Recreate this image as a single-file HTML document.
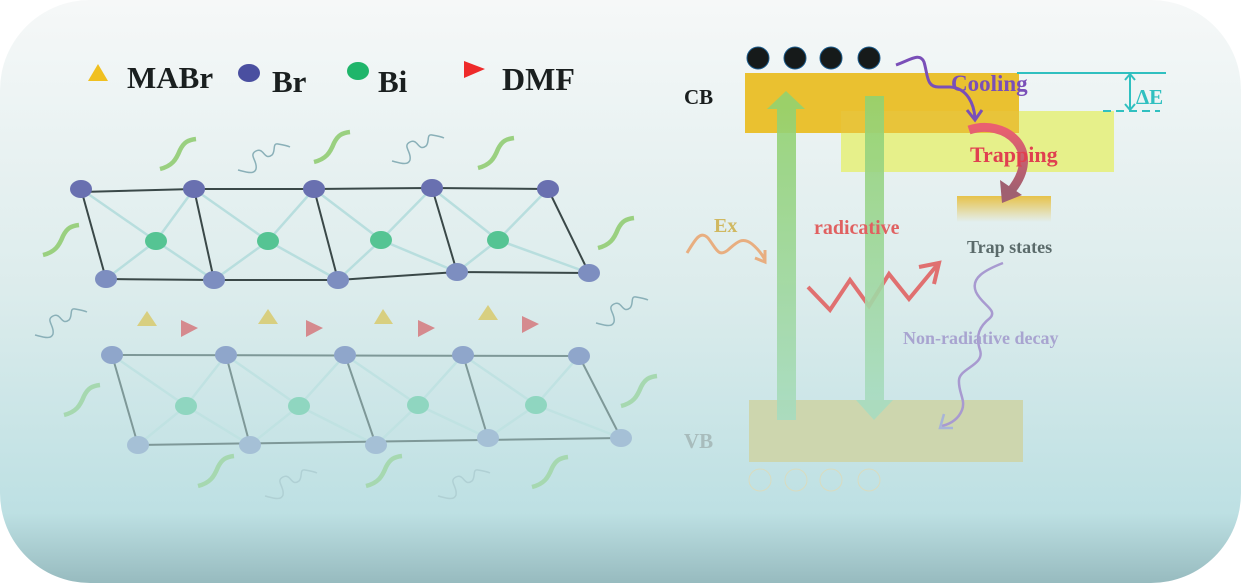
<!DOCTYPE html>
<html><head><meta charset="utf-8"><style>
html,body{margin:0;padding:0;background:#fff;}
svg{display:block;}
text{font-family:"Liberation Serif",serif;font-weight:bold;}
</style></head><body>
<svg width="1241" height="583" viewBox="0 0 1241 583" xmlns="http://www.w3.org/2000/svg">
<defs>
<linearGradient id="bg" x1="0" y1="0" x2="0" y2="1">
<stop offset="0" stop-color="#f6f8f8"/>
<stop offset="0.5" stop-color="#dcecec"/>
<stop offset="0.88" stop-color="#bde0e3"/>
<stop offset="1" stop-color="#97bbbf"/>
</linearGradient>
<linearGradient id="trap" x1="0" y1="0" x2="0" y2="1">
<stop offset="0" stop-color="#e6c24a"/>
<stop offset="1" stop-color="#e6c24a" stop-opacity="0"/>
</linearGradient>
<linearGradient id="ga" x1="0" y1="0" x2="0" y2="1">
<stop offset="0" stop-color="#93d270"/>
<stop offset="1" stop-color="#a8dcc0"/>
</linearGradient>
<linearGradient id="tr" x1="0" y1="0" x2="0" y2="1">
<stop offset="0" stop-color="#ea6070"/>
<stop offset="1" stop-color="#a06070"/>
</linearGradient>
<path id="gs" d="M0,30 C12,27 16,21 20,11 C24,3 28,1 36,0"/>
<path id="gw" d="M0,27 C8,29 16,32 18,26 C20,18 10,12 18,8 C26,4 26,18 34,12 C38,8 34,0 40,1 C46,2 50,3 52,4"/>
</defs>
<rect x="0" y="0" width="1241" height="583" rx="90" ry="90" fill="url(#bg)"/>

<!-- legend -->
<polygon points="88,81 98,64 108,81" fill="#f0c020"/>
<text x="127" y="88" font-size="31" fill="#1a1f1f">MABr</text>
<ellipse cx="249" cy="73" rx="11" ry="9" fill="#4a4fa0"/>
<text x="272" y="92" font-size="31" fill="#1a1f1f">Br</text>
<ellipse cx="358" cy="71" rx="11" ry="9" fill="#1fb56a"/>
<text x="378" y="92" font-size="31" fill="#1a1f1f">Bi</text>
<polygon points="464,61 485,69 464,78" fill="#ee2a2a"/>
<text x="502" y="90" font-size="32" fill="#1a1f1f">DMF</text>

<!-- squiggles -->
<g fill="none" stroke-linecap="butt">
<g stroke="#9ad080" stroke-width="4.5">
<use href="#gs" transform="translate(160,139)"/>
<use href="#gs" transform="translate(314,132)"/>
<use href="#gs" transform="translate(478,138)"/>
<use href="#gs" transform="translate(43,225)"/>
<use href="#gs" transform="translate(598,218)"/>
</g>
<g stroke="#a6d8b0" stroke-width="4.5">
<use href="#gs" transform="translate(64,385)"/>
<use href="#gs" transform="translate(621,376)"/>
<use href="#gs" transform="translate(198,456)"/>
<use href="#gs" transform="translate(366,456)"/>
<use href="#gs" transform="translate(532,457)"/>
</g>
<g stroke="#8ab0b8" stroke-width="1.5">
<use href="#gw" transform="translate(238,143)"/>
<use href="#gw" transform="translate(392,134)"/>
<use href="#gw" transform="translate(35,308)"/>
<use href="#gw" transform="translate(596,296)"/>
</g>
<g stroke="#b0d0d4" stroke-width="1.5">
<use href="#gw" transform="translate(265,469)"/>
<use href="#gw" transform="translate(438,469)"/>
</g>
</g>

<!-- top lattice -->
<g fill="none">
<path stroke="#b8dede" stroke-width="2.5" d="M81,189 L156,241 L214,280 M106,279 L156,241 L194,189 M194,189 L268,241 L338,280 M214,280 L268,241 L314,189 M314,189 L381,240 L457,272 M338,280 L381,240 L432,188 M432,188 L498,240 L589,273 M457,272 L498,240 L548,189"/>
<path stroke="#3a4848" stroke-width="2" d="M81,192 L194,189 L314,189 L432,188 L548,189 M106,279 L214,280 L338,280 L457,272 L589,273 M81,189 L106,279 M194,189 L214,280 M314,189 L338,280 M432,188 L457,272 M548,189 L589,273"/>
</g>
<g fill="#6970b0">
<ellipse cx="81" cy="189" rx="11" ry="9"/><ellipse cx="194" cy="189" rx="11" ry="9"/><ellipse cx="314" cy="189" rx="11" ry="9"/><ellipse cx="432" cy="188" rx="11" ry="9"/><ellipse cx="548" cy="189" rx="11" ry="9"/>
</g>
<g fill="#7d8ec0">
<ellipse cx="106" cy="279" rx="11" ry="9"/><ellipse cx="214" cy="280" rx="11" ry="9"/><ellipse cx="338" cy="280" rx="11" ry="9"/><ellipse cx="457" cy="272" rx="11" ry="9"/><ellipse cx="589" cy="273" rx="11" ry="9"/>
</g>
<g fill="#55c493">
<ellipse cx="156" cy="241" rx="11" ry="9"/><ellipse cx="268" cy="241" rx="11" ry="9"/><ellipse cx="381" cy="240" rx="11" ry="9"/><ellipse cx="498" cy="240" rx="11" ry="9"/>
</g>

<!-- molecules -->
<g fill="#d8cf80">
<polygon points="137,326 147,311 157,326"/><polygon points="258,324 268,309 278,324"/><polygon points="374,324 383,309 393,324"/><polygon points="478,320 488,305 498,320"/>
</g>
<g fill="#d58a8e">
<polygon points="181,320 198,328 181,337"/><polygon points="306,320 323,328 306,337"/><polygon points="418,320 435,328 418,337"/><polygon points="522,316 539,324 522,333"/>
</g>

<!-- bottom lattice -->
<g fill="none">
<path stroke="#c0e2e2" stroke-width="2.5" d="M112,355 L186,406 L250,445 M138,445 L186,406 L226,355 M226,355 L299,406 L376,445 M250,445 L299,406 L345,355 M345,355 L418,405 L488,438 M376,445 L418,405 L463,355 M463,355 L536,405 L621,438 M488,438 L536,405 L579,356"/>
<path stroke="#7e9898" stroke-width="2" d="M112,355 L579,356 M138,445 L621,438 M112,355 L138,445 M226,355 L250,445 M345,355 L376,445 M463,355 L488,438 M579,356 L621,438"/>
</g>
<g fill="#8fa6cb">
<ellipse cx="112" cy="355" rx="11" ry="9"/><ellipse cx="226" cy="355" rx="11" ry="9"/><ellipse cx="345" cy="355" rx="11" ry="9"/><ellipse cx="463" cy="355" rx="11" ry="9"/><ellipse cx="579" cy="356" rx="11" ry="9"/>
</g>
<g fill="#a5c0d6">
<ellipse cx="138" cy="445" rx="11" ry="9"/><ellipse cx="250" cy="445" rx="11" ry="9"/><ellipse cx="376" cy="445" rx="11" ry="9"/><ellipse cx="488" cy="438" rx="11" ry="9"/><ellipse cx="621" cy="438" rx="11" ry="9"/>
</g>
<g fill="#8fd6c0">
<ellipse cx="186" cy="406" rx="11" ry="9"/><ellipse cx="299" cy="406" rx="11" ry="9"/><ellipse cx="418" cy="405" rx="11" ry="9"/><ellipse cx="536" cy="405" rx="11" ry="9"/>
</g>

<!-- Energy diagram -->
<rect x="745" y="73" width="274" height="60" fill="#eac130"/>
<rect x="841" y="111" width="273" height="61" fill="#e6f08a"/>
<rect x="841" y="111" width="178" height="22" fill="#e8c43a"/>
<rect x="957" y="196" width="94" height="26" fill="url(#trap)"/>
<rect x="749" y="400" width="274" height="62" fill="#cdd6ae"/>

<!-- zigzag -->
<path d="M808,287 L830,310 L850,280 L869,306 L889,274 L909,299 L938,264" fill="none" stroke="#e07070" stroke-width="4"/>
<path d="M919,267 L939,263 L934,284" fill="none" stroke="#e07070" stroke-width="4"/>

<!-- green arrows -->
<g opacity="0.9">
<rect x="777" y="107" width="19" height="313" fill="url(#ga)"/>
<polygon points="767,109 786,91 805,109" fill="#93d270"/>
<rect x="865" y="96" width="19" height="304" fill="url(#ga)"/>
<polygon points="856,400 893,400 874,420" fill="#a8dcc0"/>
</g>

<!-- electrons -->
<g fill="#161a1a" stroke="#1a5a8a" stroke-width="1">
<circle cx="758" cy="58" r="11"/><circle cx="795" cy="58" r="11"/><circle cx="831" cy="58" r="11"/><circle cx="869" cy="58" r="11"/>
</g>
<g fill="none" stroke="#d8dcc0" stroke-width="1">
<circle cx="760" cy="480" r="11"/><circle cx="796" cy="480" r="11"/><circle cx="831" cy="480" r="11"/><circle cx="869" cy="480" r="11"/>
</g>

<text x="684" y="104" font-size="21" fill="#1a1f1f">CB</text>
<text x="684" y="448" font-size="21" fill="#a8bcbc">VB</text>

<!-- cooling arrow -->
<path d="M896,65 C910,60 920,52 924,62 C928,75 926,88 940,87 L950,87 C968,88 974,105 975,118" fill="none" stroke="#7a4fb8" stroke-width="3"/>
<path d="M967,110 L975,120 L982,110" fill="none" stroke="#7a4fb8" stroke-width="3"/>
<text x="951" y="91" font-size="23" fill="#7a4fb8">Cooling</text>

<!-- delta E -->
<path d="M1017,73 L1166,73" stroke="#30c0c0" stroke-width="2"/>
<path d="M1103,111 L1160,111" stroke="#30c0c0" stroke-width="2" stroke-dasharray="8,5"/>
<path d="M1130,74 L1130,110 M1125,80 L1130,74 L1135,80 M1125,104 L1130,110 L1135,104" fill="none" stroke="#30c0c0" stroke-width="2"/>
<text x="1136" y="104" font-size="21" fill="#30c0c0">ΔE</text>

<!-- trapping arrow -->
<path d="M969,130 C1005,118 1045,150 1010,192" fill="none" stroke="url(#tr)" stroke-width="9"/>
<polygon points="1000,180 1022,195 1002,203" fill="#a06070"/>
<text x="970" y="162" font-size="22" fill="#e04050">Trapping</text>

<text x="967" y="253" font-size="18" fill="#5a6a6a">Trap states</text>

<!-- Ex -->
<path d="M687,253 C695,240 700,230 708,238 C716,248 718,258 728,250 C736,243 742,236 752,244 C758,249 762,254 765,260" fill="none" stroke="#e8ae80" stroke-width="3"/>
<path d="M755,258 L765,262 L765,250" fill="none" stroke="#e8ae80" stroke-width="3"/>
<text x="714" y="232" font-size="20" fill="#d0b860">Ex</text>

<text x="814" y="234" font-size="20" fill="#e06060">radicative</text>

<!-- non-radiative -->
<path d="M1003,263 C985,270 970,278 976,292 C982,305 998,310 990,318 C980,326 975,335 980,350 C985,365 960,368 959,380 C958,392 966,400 962,410 C958,420 950,424 942,426" fill="none" stroke="#a89ad0" stroke-width="2.5"/>
<path d="M944,414 L940,428 L953,428" fill="none" stroke="#a8b4d8" stroke-width="2.5"/>
<text x="903" y="344" font-size="18" fill="#a8a4d0">Non-radiative decay</text>
</svg>
</body></html>
